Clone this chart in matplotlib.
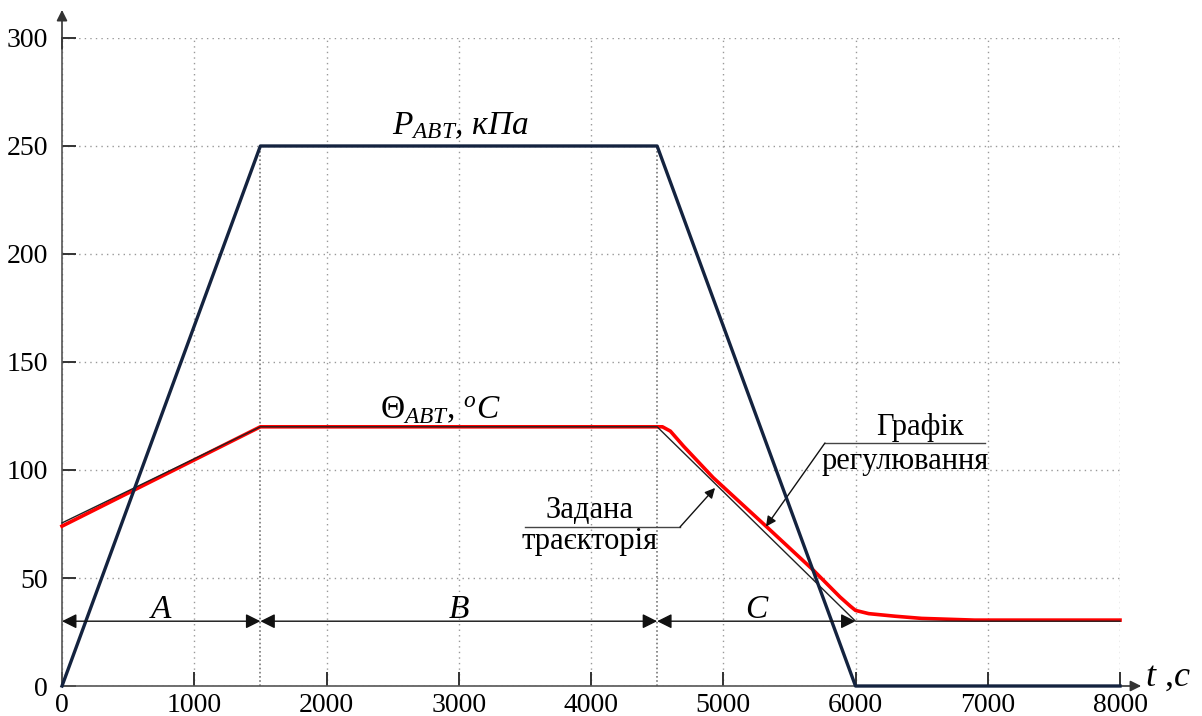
import matplotlib
matplotlib.use("Agg")
import matplotlib.pyplot as plt

# ---- data ----
p_t = [0, 1500, 4500, 6000, 8000]
p_val = [0, 250, 250, 0, 0]

set_t = [0, 1500, 4500, 6000, 8000]
set_val = [75.5, 120, 120, 30, 30]

reg_t = [0, 1500, 4540, 4600, 4700, 4923, 5330, 5680, 5883, 5960, 6000, 6100, 6300, 6500, 6900, 8000]
reg_val = [74, 120, 120, 118, 111, 96.5, 73.6, 53.7, 41.2, 37, 35, 33.5, 32.3, 31.3, 30.5, 30.5]

zone_bounds = [0, 1500, 4500, 6000]
zone_labels = ["A", "B", "C"]
zone_y = 30

x_ticks = [0, 1000, 2000, 3000, 4000, 5000, 6000, 7000, 8000]
y_ticks = [0, 50, 100, 150, 200, 250, 300]

plt.rcParams['mathtext.fontset'] = 'custom'
plt.rcParams['mathtext.rm'] = 'Liberation Serif'
plt.rcParams['mathtext.it'] = 'Liberation Serif:italic'
plt.rcParams['mathtext.bf'] = 'Liberation Serif:bold'
plt.rcParams['font.family'] = ['Liberation Serif', 'DejaVu Serif']

fig = plt.figure(figsize=(12.02, 7.16), dpi=100)
ax = fig.add_axes([62/1202, 30/716, (1120-62)/1202, (686-38)/716])

ax.set_xlim(0, 8000)
ax.set_ylim(0, 300)
ax.set_xticks(x_ticks)
ax.set_yticks(y_ticks)
ax.grid(True, linestyle=(0, (1, 3)), color='#999999', linewidth=1.0)
ax.set_axisbelow(True)
for s in ['top', 'right']:
    ax.spines[s].set_visible(False)
for s in ['left', 'bottom']:
    ax.spines[s].set_color('#555555')
    ax.spines[s].set_linewidth(1.2)
ax.tick_params(direction='in', length=10, width=1.4, color='#333333',
               labelsize=20)
ax.tick_params(axis='y', pad=10)
ax.tick_params(axis='x', pad=5)

# axis arrows
ax.annotate('', xy=(8160, 0), xytext=(7900, 0), xycoords='data',
            arrowprops=dict(arrowstyle='-|>', color='#333333', lw=1.2,
                            mutation_scale=16, shrinkA=0, shrinkB=0),
            annotation_clip=False)
ax.annotate('', xy=(0, 313), xytext=(0, 295), xycoords='data',
            arrowprops=dict(arrowstyle='-|>', color='#333333', lw=1.2,
                            mutation_scale=16, shrinkA=0, shrinkB=0),
            annotation_clip=False)
ax.text(8365, 4, r'$t$ ,$c$', fontsize=26, ha='center', va='center',
        clip_on=False)

# zone boundary markers
for xb in [1500, 4500]:
    ax.plot([xb, xb], [0, 250], color='#777777', lw=1.2, linestyle=(0, (1, 1.5)),
            zorder=2)

# curves
ax.plot(set_t, set_val, color='#222222', lw=1.0, zorder=4, clip_on=False)
ax.plot(reg_t, reg_val, color='#ff0000', lw=2.6, zorder=3, clip_on=False)
ax.plot(p_t, p_val, color='#14233f', lw=2.4, zorder=5, clip_on=False)

# zone arrows
for i in range(3):
    ax.annotate('', xy=(zone_bounds[i + 1], zone_y), xytext=(zone_bounds[i], zone_y),
                arrowprops=dict(arrowstyle='<|-|>', color='#111111', lw=1.0,
                                mutation_scale=22, shrinkA=0, shrinkB=0),
                zorder=6)
    ax.text((zone_bounds[i] + zone_bounds[i + 1]) / 2, zone_y + 1.5, zone_labels[i],
            fontsize=24, style='italic', ha='center', va='baseline')

# curve labels
ax.text(3010, 259.5, r'$P_{ABT}$, кПа', fontsize=24, style='italic',
        ha='center', va='center')
ax.text(2860, 128, r'$\Theta_{ABT}$, $^{o}C$', fontsize=24,
        ha='center', va='center')

# annotation: set trajectory
ax.text(3990, 77.8, 'Задана', fontsize=22, ha='center', va='baseline')
ax.text(3990, 63.6, 'траєкторія', fontsize=22, ha='center', va='baseline')
ax.plot([3500, 4673], [73.6, 73.6], color='#444444', lw=1.0)
ax.annotate('', xy=(4938, 91.7), xytext=(4673, 73.6),
            arrowprops=dict(arrowstyle='-|>', color='#111111', lw=1.0,
                            mutation_scale=15, shrinkA=0, shrinkB=0))

# annotation: control graph
ax.text(6490, 116.2, 'Графік', fontsize=22, ha='center', va='baseline')
ax.text(6375, 100.6, 'регулювання', fontsize=22, ha='center', va='baseline')
ax.plot([5769, 6979], [112.5, 112.5], color='#444444', lw=1.0)
ax.annotate('', xy=(5323, 73.8), xytext=(5769, 112.5),
            arrowprops=dict(arrowstyle='-|>', color='#111111', lw=1.0,
                            mutation_scale=15, shrinkA=0, shrinkB=0))

fig.savefig('out.png', dpi=100)
